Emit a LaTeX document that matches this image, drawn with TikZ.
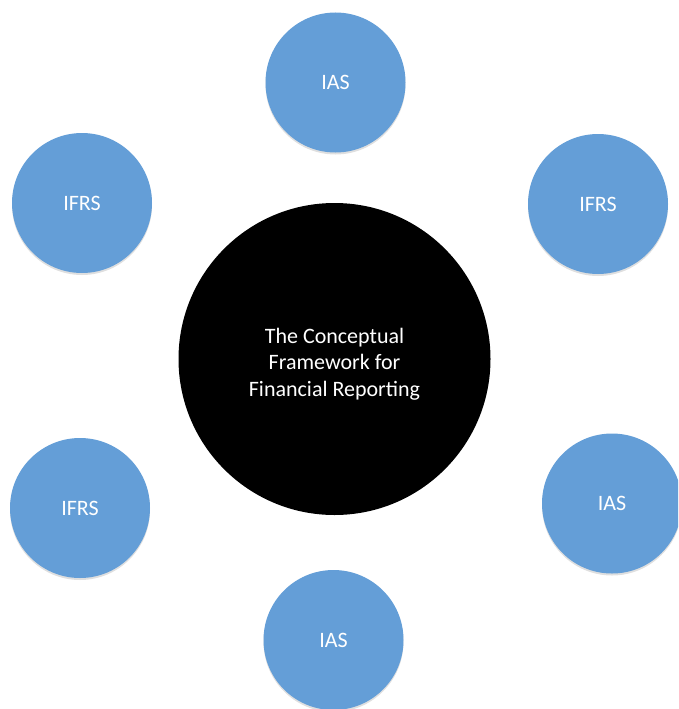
\documentclass[tikz,border=0pt]{standalone}
\usepackage{fontspec}
\setmainfont{Carlito}
\usepackage{tikz}
\usetikzlibrary{shadows}
\definecolor{bubble}{RGB}{100,158,215}

\begin{document}
\begin{tikzpicture}[x=1pt, y=-1pt,
  small/.style={circle, fill=bubble, minimum size=140pt, inner sep=0pt, text=white,
    font=\fontsize{22}{26}\selectfont,
    drop shadow={opacity=0.25, shadow xshift=0pt, shadow yshift=-2pt}},
  hub/.style={circle, fill=black, minimum size=312pt, inner sep=0pt},
  hubtext/.style={text=white, align=center, font=\fontsize{22}{26.5}\selectfont}]
  \useasboundingbox (0,0) rectangle (678,709);
  \clip (0,0) rectangle (678,709);
  \node[hub] (frame) at (334.5,359) {};
  \node[hubtext] (title) at ([yshift=-5pt]frame.center) {The Conceptual\\Framework for\\Financial Reporting};
  \node[small] (ias1) at (335.5,82.5) {IAS};
  \node[small] (ifrs1) at (598,204) {IFRS};
  \node[small] (ias2) at (612,503.5) {IAS};
  \node[small] (ias3) at (333.5,640) {IAS};
  \node[small] (ifrs2) at (80,508) {IFRS};
  \node[small] (ifrs3) at (82,203) {IFRS};
\end{tikzpicture}
\end{document}
